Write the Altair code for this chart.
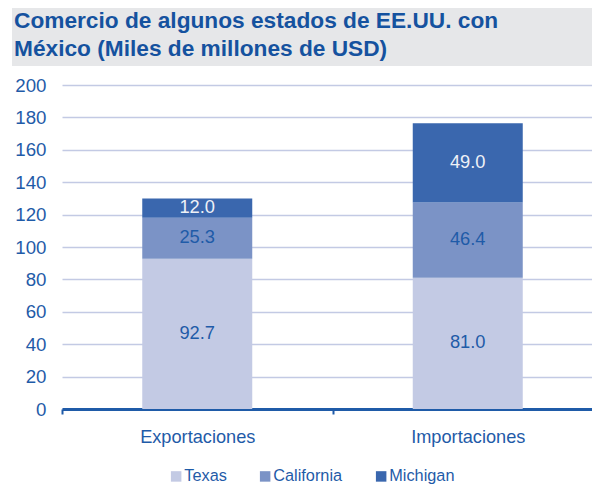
import altair as alt
import pandas as pd

categories = ["Exportaciones", "Importaciones"]
series = ["Texas", "California", "Michigan"]
texas = [92.7, 81.0]
california = [25.3, 46.4]
michigan = [12.0, 49.0]
title_lines = ["Comercio de algunos estados de EE.UU. con", "México (Miles de millones de USD)"]
y_ticks = list(range(0, 201, 20))

colors = ["#C3CAE4", "#7B93C6", "#3A67AE"]
BLUE = "#1F5BA8"
TITLE_BLUE = "#15529F"
FONT = "Liberation Sans"

rows = []
for vals, name in zip([texas, california, michigan], series):
    for c, v in zip(categories, vals):
        rows.append({"cat": c, "series": name, "value": v, "idx": series.index(name)})
df = pd.DataFrame(rows)

W, H = 530, 324

base = alt.Chart(df)

x_axis = alt.Axis(labelAngle=0, domainColor=BLUE, domainWidth=3,
                  tickBand="extent", tickColor=BLUE, tickWidth=2, tickSize=5,
                  labelColor=BLUE, labelFontSize=18.2, labelFont=FONT,
                  labelPadding=14, grid=False)
y_axis = alt.Axis(values=y_ticks, domain=False, ticks=False, labelOverlap=False,
                  labelColor=BLUE, labelFontSize=18.7, labelFont=FONT,
                  labelPadding=16, gridColor="#C3CAE4", gridWidth=1.5)
x_scale = alt.Scale(paddingInner=0, paddingOuter=0, range=[0, 541])
y_scale = alt.Scale(domain=[0, 200], nice=False)

bars = base.mark_bar(size=110).encode(
    x=alt.X("cat:N", title=None, sort=categories, scale=x_scale, axis=x_axis),
    y=alt.Y("value:Q", title=None, stack="zero", scale=y_scale, axis=y_axis),
    color=alt.Color("series:N", sort=series,
                    scale=alt.Scale(domain=series, range=colors),
                    legend=alt.Legend(title=None, orient="none", legendX=106, legendY=383,
                                      direction="horizontal", symbolType="square",
                                      symbolSize=110, symbolStrokeWidth=0,
                                      labelFontSize=16.3, labelFont=FONT, labelColor=BLUE,
                                      labelOffset=0, columnPadding=30, padding=0)),
    order=alt.Order("idx:Q"),
)

labels = base.transform_stack(
    stack="value", groupby=["cat"], as_=["v0", "v1"], sort=[alt.SortField("idx")]
).transform_calculate(
    mid="(datum.v0 + datum.v1) / 2"
).mark_text(fontSize=18.3, font=FONT, baseline="middle").encode(
    x=alt.X("cat:N", title=None, sort=categories, scale=x_scale, axis=x_axis),
    y=alt.Y("mid:Q", title=None, scale=y_scale, axis=y_axis),
    text=alt.Text("value:Q", format=".1f"),
    color=alt.condition(alt.datum.series == "Michigan", alt.value("#EEF1F7"), alt.value(BLUE)),
)

tdf = pd.DataFrame({"t": [0]})
band = alt.Chart(tdf).mark_rect(color="#E6E7E9").encode(
    x=alt.value(-50), x2=alt.value(W), y=alt.value(-77), y2=alt.value(-19)
)
t1 = alt.Chart(tdf).mark_text(text=title_lines[0], align="left", baseline="alphabetic",
                              fontSize=22.7, fontWeight="bold", font=FONT,
                              color=TITLE_BLUE).encode(x=alt.value(-48), y=alt.value(-57))
t2 = alt.Chart(tdf).mark_text(text=title_lines[1], align="left", baseline="alphabetic",
                              fontSize=22.7, fontWeight="bold", font=FONT,
                              color=TITLE_BLUE).encode(x=alt.value(-48), y=alt.value(-29))

chart = alt.layer(band, t1, t2, bars, labels).properties(
    width=W, height=H,
    autosize=alt.AutoSizeParams(type="none"),
    padding={"left": 54, "top": 77, "right": 0, "bottom": 75},
).configure_view(stroke=None)

chart.save("out.html", embed_options={"renderer": "svg", "actions": False})
